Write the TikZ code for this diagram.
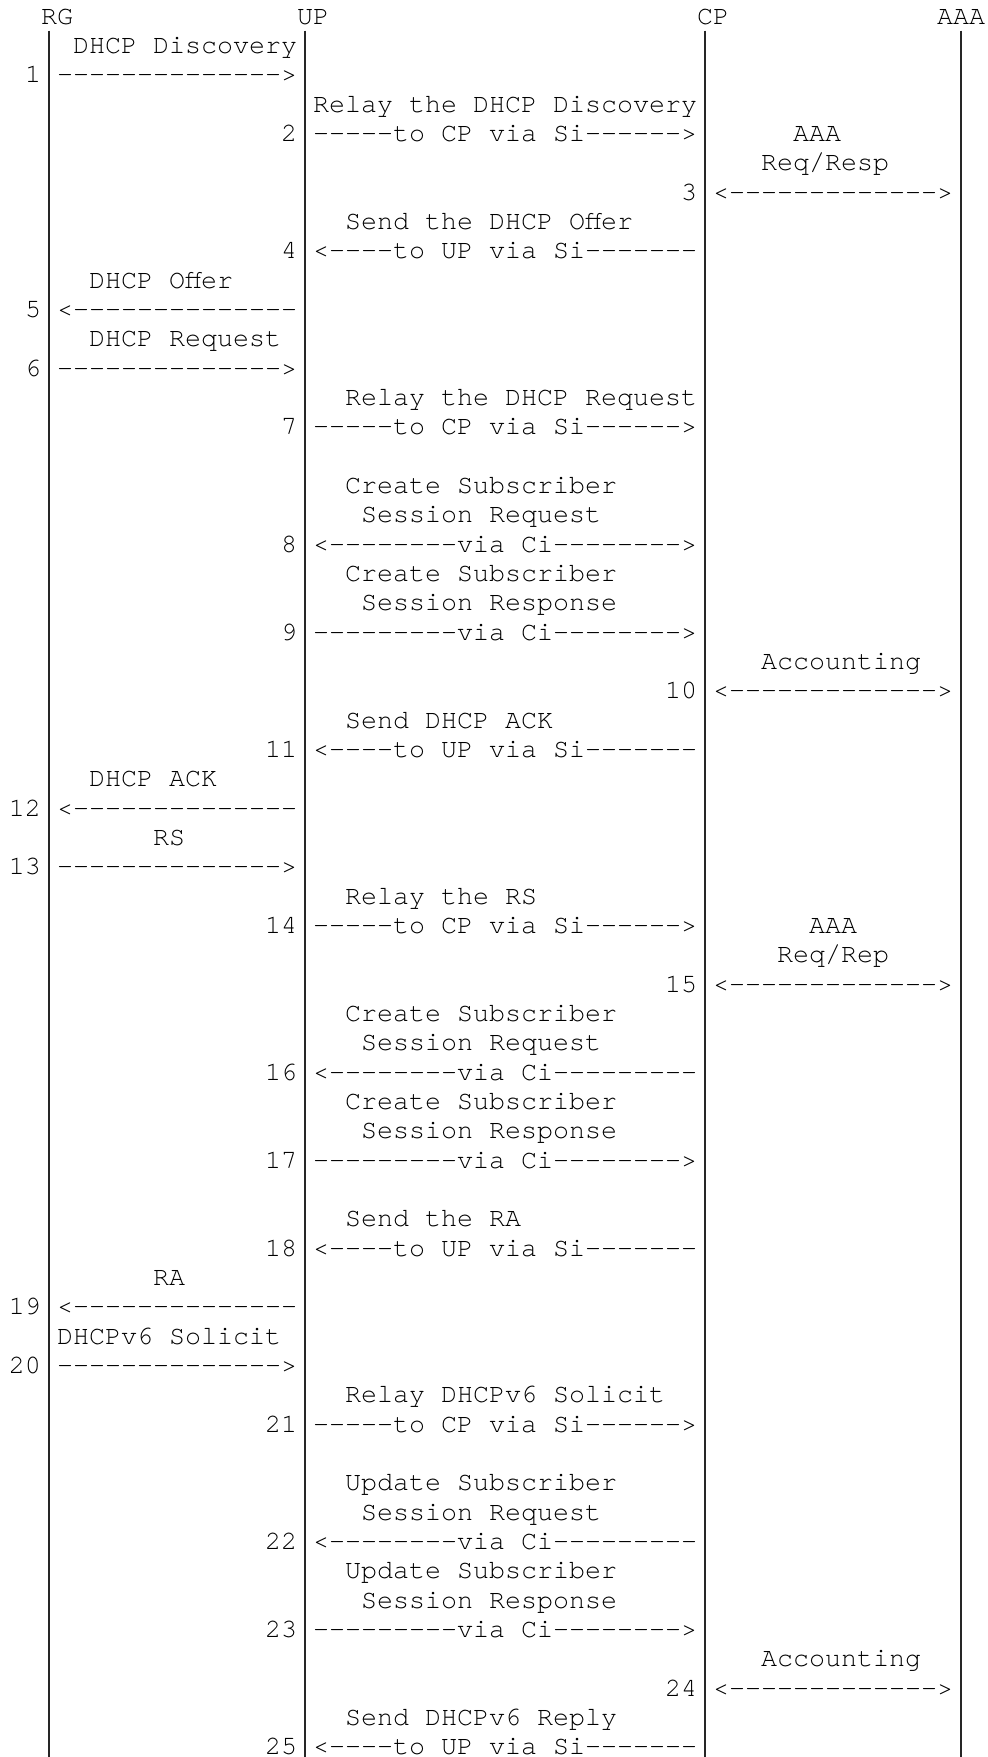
\documentclass[tikz,border=0pt]{standalone}
\usepackage{fontspec}
\IfFontExistsTF{texgyrecursor-regular.otf}
  {\setmonofont{texgyrecursor-regular.otf}}
  {\setmonofont{Liberation Mono}}
\newcommand\dsh[1]{\foreach \k in {1,...,#1}{-}}
\newcommand\Lbl[4]{\node[txt] (#1) at ({-7+16*#3},{24.2+29.333*#2}) {#4};}
\begin{document}
\begin{tikzpicture}[x=1pt,y=-1pt,
  txt/.style={anchor=base west,inner sep=0pt,outer sep=0pt,text=black,
    font=\ttfamily\fontsize{26.667pt}{29.333pt}\selectfont},
  life/.style={draw=black!85,line width=1.1pt}]
\fill[white] (0,0) rectangle (988,1757);
\useasboundingbox (0,0) rectangle (988,1757);
% lifelines
\coordinate (rgT) at (49,30.7);  \coordinate (rgB) at (49,1757);
\coordinate (upT) at (305,30.7); \coordinate (upB) at (305,1757);
\coordinate (cpT) at (705,30.7); \coordinate (cpB) at (705,1757);
\coordinate (aaT) at (961,30.7); \coordinate (aaB) at (961,1757);
\draw[life] (rgT) -- (rgB);
\draw[life] (upT) -- (upB);
\draw[life] (cpT) -- (cpB);
\draw[life] (aaT) -- (aaB);
% header
\Lbl{h1}{0}{3}{RG}
\Lbl{h2}{0}{19}{UP}
\Lbl{h3}{0}{44}{CP}
\Lbl{h4}{0}{59}{AAA}
% 1
\Lbl{l1}{1}{5}{DHCP Discovery}
\Lbl{n1}{2}{2}{1}
\Lbl{a1}{2}{4}{\dsh{14}>}
% 2
\Lbl{l2}{3}{20}{Relay the DHCP Discovery}
\Lbl{n2}{4}{18}{2}
\Lbl{a2}{4}{20}{\dsh{5}to CP via Si\dsh{6}>}
% 3
\Lbl{l3a}{4}{50}{AAA}
\Lbl{l3b}{5}{48}{Req/Resp}
\Lbl{n3}{6}{43}{3}
\Lbl{a3}{6}{45}{<\dsh{13}>}
% 4
\Lbl{l4}{7}{22}{Send the DHCP Offer}
\Lbl{n4}{8}{18}{4}
\Lbl{a4}{8}{20}{<\dsh{4}to UP via Si\dsh{7}}
% 5
\Lbl{l5}{9}{6}{DHCP Offer}
\Lbl{n5}{10}{2}{5}
\Lbl{a5}{10}{4}{<\dsh{14}}
% 6
\Lbl{l6}{11}{6}{DHCP Request}
\Lbl{n6}{12}{2}{6}
\Lbl{a6}{12}{4}{\dsh{14}>}
% 7
\Lbl{l7}{13}{22}{Relay the DHCP Request}
\Lbl{n7}{14}{18}{7}
\Lbl{a7}{14}{20}{\dsh{5}to CP via Si\dsh{6}>}
% 8
\Lbl{l8a}{16}{22}{Create Subscriber}
\Lbl{l8b}{17}{23}{Session Request}
\Lbl{n8}{18}{18}{8}
\Lbl{a8}{18}{20}{<\dsh{8}via Ci\dsh{8}>}
% 9
\Lbl{l9a}{19}{22}{Create Subscriber}
\Lbl{l9b}{20}{23}{Session Response}
\Lbl{n9}{21}{18}{9}
\Lbl{a9}{21}{20}{\dsh{9}via Ci\dsh{8}>}
% 10
\Lbl{l10}{22}{48}{Accounting}
\Lbl{n10}{23}{42}{10}
\Lbl{a10}{23}{45}{<\dsh{13}>}
% 11
\Lbl{l11}{24}{22}{Send DHCP ACK}
\Lbl{n11}{25}{17}{11}
\Lbl{a11}{25}{20}{<\dsh{4}to UP via Si\dsh{7}}
% 12
\Lbl{l12}{26}{6}{DHCP ACK}
\Lbl{n12}{27}{1}{12}
\Lbl{a12}{27}{4}{<\dsh{14}}
% 13
\Lbl{l13}{28}{10}{RS}
\Lbl{n13}{29}{1}{13}
\Lbl{a13}{29}{4}{\dsh{14}>}
% 14
\Lbl{l14}{30}{22}{Relay the RS}
\Lbl{n14}{31}{17}{14}
\Lbl{a14}{31}{20}{\dsh{5}to CP via Si\dsh{6}>}
% 15
\Lbl{l15a}{31}{51}{AAA}
\Lbl{l15b}{32}{49}{Req/Rep}
\Lbl{n15}{33}{42}{15}
\Lbl{a15}{33}{45}{<\dsh{13}>}
% 16
\Lbl{l16a}{34}{22}{Create Subscriber}
\Lbl{l16b}{35}{23}{Session Request}
\Lbl{n16}{36}{17}{16}
\Lbl{a16}{36}{20}{<\dsh{8}via Ci\dsh{9}}
% 17
\Lbl{l17a}{37}{22}{Create Subscriber}
\Lbl{l17b}{38}{23}{Session Response}
\Lbl{n17}{39}{17}{17}
\Lbl{a17}{39}{20}{\dsh{9}via Ci\dsh{8}>}
% 18
\Lbl{l18}{41}{22}{Send the RA}
\Lbl{n18}{42}{17}{18}
\Lbl{a18}{42}{20}{<\dsh{4}to UP via Si\dsh{7}}
% 19
\Lbl{l19}{43}{10}{RA}
\Lbl{n19}{44}{1}{19}
\Lbl{a19}{44}{4}{<\dsh{14}}
% 20
\Lbl{l20}{45}{4}{DHCPv6 Solicit}
\Lbl{n20}{46}{1}{20}
\Lbl{a20}{46}{4}{\dsh{14}>}
% 21
\Lbl{l21}{47}{22}{Relay DHCPv6 Solicit}
\Lbl{n21}{48}{17}{21}
\Lbl{a21}{48}{20}{\dsh{5}to CP via Si\dsh{6}>}
% 22
\Lbl{l22a}{50}{22}{Update Subscriber}
\Lbl{l22b}{51}{23}{Session Request}
\Lbl{n22}{52}{17}{22}
\Lbl{a22}{52}{20}{<\dsh{8}via Ci\dsh{9}}
% 23
\Lbl{l23a}{53}{22}{Update Subscriber}
\Lbl{l23b}{54}{23}{Session Response}
\Lbl{n23}{55}{17}{23}
\Lbl{a23}{55}{20}{\dsh{9}via Ci\dsh{8}>}
% 24
\Lbl{l24}{56}{48}{Accounting}
\Lbl{n24}{57}{42}{24}
\Lbl{a24}{57}{45}{<\dsh{13}>}
% 25
\Lbl{l25}{58}{22}{Send DHCPv6 Reply}
\Lbl{n25}{59}{17}{25}
\Lbl{a25}{59}{20}{<\dsh{4}to UP via Si\dsh{7}}
\end{tikzpicture}
\end{document}
